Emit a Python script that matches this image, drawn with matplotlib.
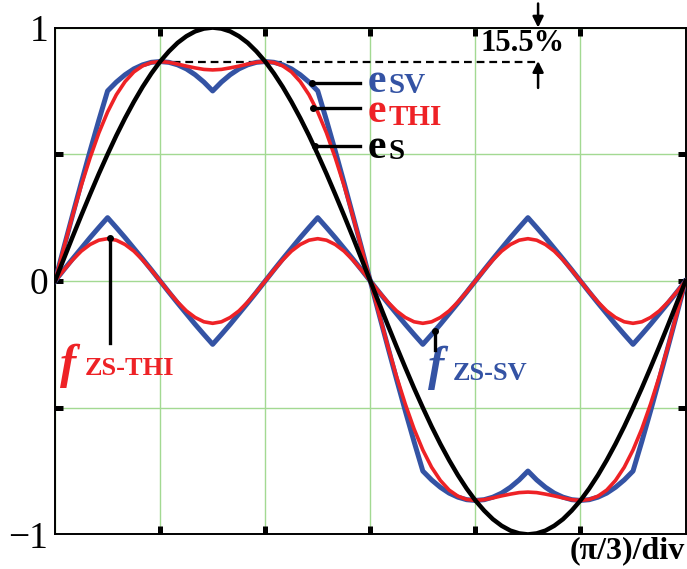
import matplotlib
matplotlib.use("Agg")
import matplotlib.pyplot as plt

plt.rcParams['font.family'] = ['Liberation Serif', 'DejaVu Serif']

# phase angle, degrees (one fundamental period, 5 deg steps)
angle_deg = [0, 5, 10, 15, 20, 25, 30, 35, 40, 45, 50, 55, 60, 65, 70, 75, 80, 85,
             90, 95, 100, 105, 110, 115, 120, 125, 130, 135, 140, 145, 150, 155,
             160, 165, 170, 175, 180, 185, 190, 195, 200, 205, 210, 215, 220,
             225, 230, 235, 240, 245, 250, 255, 260, 265, 270, 275, 280, 285,
             290, 295, 300, 305, 310, 315, 320, 325, 330, 335, 340, 345, 350,
             355, 360]

# sinusoidal reference e_S
e_s = [0, .087, .174, .259, .342, .423, .5, .574, .643, .707, .766, .819, .866,
       .906, .940, .966, .985, .996, 1.0, .996, .985, .966, .940, .906, .866,
       .819, .766, .707, .643, .574, .5, .423, .342, .259, .174, .087, 0,
       -.087, -.174, -.259, -.342, -.423, -.5, -.574, -.643, -.707, -.766,
       -.819, -.866, -.906, -.940, -.966, -.985, -.996, -1.0, -.996, -.985,
       -.966, -.940, -.906, -.866, -.819, -.766, -.707, -.643, -.574, -.5,
       -.423, -.342, -.259, -.174, -.087, 0]

# space vector reference e_SV
e_sv = [0, .131, .260, .388, .513, .634, .75, .785, .814, .837, .853, .863,
        .866, .863, .853, .837, .814, .785, .75, .785, .814, .837, .853, .863,
        .866, .863, .853, .837, .814, .785, .75, .634, .513, .388, .260, .131, 0,
        -.131, -.260, -.388, -.513, -.634, -.75, -.785, -.814, -.837, -.853,
        -.863, -.866, -.863, -.853, -.837, -.814, -.785, -.75, -.785, -.814,
        -.837, -.853, -.863, -.866, -.863, -.853, -.837, -.814, -.785, -.75,
        -.634, -.513, -.388, -.260, -.131, 0]

# third harmonic injection reference e_THI
e_thi = [0, .130, .257, .377, .486, .584, .667, .735, .787, .825, .849, .862,
         .866, .863, .856, .848, .841, .835, .833, .835, .841, .848, .856, .863,
         .866, .862, .849, .825, .787, .735, .667, .584, .486, .377, .257, .130, 0,
         -.130, -.257, -.377, -.486, -.584, -.667, -.735, -.787, -.825, -.849,
         -.862, -.866, -.863, -.856, -.848, -.841, -.835, -.833, -.835, -.841,
         -.848, -.856, -.863, -.866, -.862, -.849, -.825, -.787, -.735, -.667,
         -.584, -.486, -.377, -.257, -.130, 0]

# zero sequence components
f_zs_sv = [0, .044, .087, .129, .171, .211, .25, .211, .171, .129, .087, .044,
           0, -.044, -.087, -.129, -.171, -.211, -.25, -.211, -.171, -.129, -.087, -.044,
           0, .044, .087, .129, .171, .211, .25, .211, .171, .129, .087, .044,
           0, -.044, -.087, -.129, -.171, -.211, -.25, -.211, -.171, -.129, -.087, -.044,
           0, .044, .087, .129, .171, .211, .25, .211, .171, .129, .087, .044,
           0, -.044, -.087, -.129, -.171, -.211, -.25, -.211, -.171, -.129, -.087, -.044,
           0]

f_zs_thi = [0, .043, .083, .118, .144, .161, .167, .161, .144, .118, .083, .043,
            0, -.043, -.083, -.118, -.144, -.161, -.167, -.161, -.144, -.118, -.083, -.043,
            0, .043, .083, .118, .144, .161, .167, .161, .144, .118, .083, .043,
            0, -.043, -.083, -.118, -.144, -.161, -.167, -.161, -.144, -.118, -.083, -.043,
            0, .043, .083, .118, .144, .161, .167, .161, .144, .118, .083, .043,
            0, -.043, -.083, -.118, -.144, -.161, -.167, -.161, -.144, -.118, -.083, -.043,
            0]

x_ticks = [0, 60, 120, 180, 240, 300, 360]
y_ticks = [-1, -0.5, 0, 0.5, 1]
y_labels = ['\u22121', '', '0', '', '1']

BLUE = '#3453a4'
RED = '#ee2226'
GRID = '#a3d992'

fig = plt.figure(figsize=(6.87, 5.69), dpi=100)
ax = fig.add_axes([0.0801, 0.0608, 0.9178, 0.8907])

ax.plot(angle_deg, f_zs_sv, color=BLUE, lw=3.6, zorder=3)
ax.plot(angle_deg, e_sv, color=BLUE, lw=3.6, zorder=3)
ax.plot(angle_deg, f_zs_thi, color=RED, lw=2.6, zorder=4)
ax.plot(angle_deg, e_thi, color=RED, lw=2.6, zorder=4)
ax.plot(angle_deg, e_s, color='black', lw=3.2, zorder=5)

ax.set_xlim(0, 360)
ax.set_ylim(-1, 1)
ax.set_xticks(x_ticks)
ax.set_yticks(y_ticks)
ax.set_yticklabels(y_labels)
ax.tick_params(direction='in', length=6, width=3.6, top=True, right=True,
               labelbottom=False, labelsize=27, pad=5)
for t in (ax.xaxis.get_major_ticks()[0], ax.xaxis.get_major_ticks()[-1],
          ax.yaxis.get_major_ticks()[0], ax.yaxis.get_major_ticks()[-1]):
    t.tick1line.set_visible(False)
    t.tick2line.set_visible(False)
ax.grid(True, color=GRID, lw=1.0)
ax.set_axisbelow(True)
for s in ax.spines.values():
    s.set_linewidth(1.4)

# 15.5% headroom marker
ax.plot([60, 277], [0.866, 0.866], color='black', lw=1.6, ls=(0, (3.5, 2.2)), zorder=2)
arrow = dict(arrowstyle='-|>', color='black', lw=1.8, mutation_scale=16,
             shrinkA=0, shrinkB=0)
ax.annotate('', xy=(275.8, 1.0), xytext=(275.8, 1.095), arrowprops=arrow,
            annotation_clip=False)
ax.annotate('', xy=(275.8, 0.868), xytext=(275.8, 0.762), arrowprops=arrow,
            annotation_clip=False)
ax.text(266.7, 0.937, '15.5%', fontsize=22, fontweight='bold',
        ha='center', va='center')

# leader lines and curve names
for x0, y0 in [(146.7, 0.781), (147.3, 0.683), (148.5, 0.533)]:
    ax.plot([x0, 174.2], [y0, y0], color='black', lw=2.4, zorder=6)
    ax.plot(x0, y0, 'o', color='black', ms=4, zorder=6)

ax.text(178.2, 0.746, 'e', color=BLUE, fontsize=30, fontweight='bold')
ax.text(190.2, 0.742, 'SV', color=BLUE, fontsize=21, fontweight='bold')
ax.text(178.2, 0.627, 'e', color=RED, fontsize=30, fontweight='bold')
ax.text(190.2, 0.616, 'THI', color=RED, fontsize=21, fontweight='bold')
ax.text(178.2, 0.485, 'e', color='black', fontsize=30, fontweight='bold')
ax.text(190.2, 0.481, 'S', color='black', fontsize=21, fontweight='bold')

ax.plot([31.4, 31.4], [0.17, -0.245], color='black', lw=2.4, zorder=6)
ax.plot(31.4, 0.17, 'o', color='black', ms=4, zorder=6)
ax.text(3.0, -0.383, 'f', color=RED, fontsize=35, fontweight='bold',
        style='italic')
ax.text(17.1, -0.371, 'ZS-THI', color=RED, fontsize=19, fontweight='bold')

ax.plot([217, 217], [-0.197, -0.272], color='black', lw=2.4, zorder=6)
ax.plot(217, -0.197, 'o', color='black', ms=4, zorder=6)
ax.text(213.0, -0.391, 'f', color=BLUE, fontsize=35, fontweight='bold',
        style='italic')
ax.text(227.3, -0.391, 'ZS-SV', color=BLUE, fontsize=19, fontweight='bold')

fig.text(685 / 687, 1 - 551 / 569, '(\u03c0/3)/div', fontsize=23,
         fontweight='bold', ha='right', va='center')

fig.savefig('out.png', dpi=100)
